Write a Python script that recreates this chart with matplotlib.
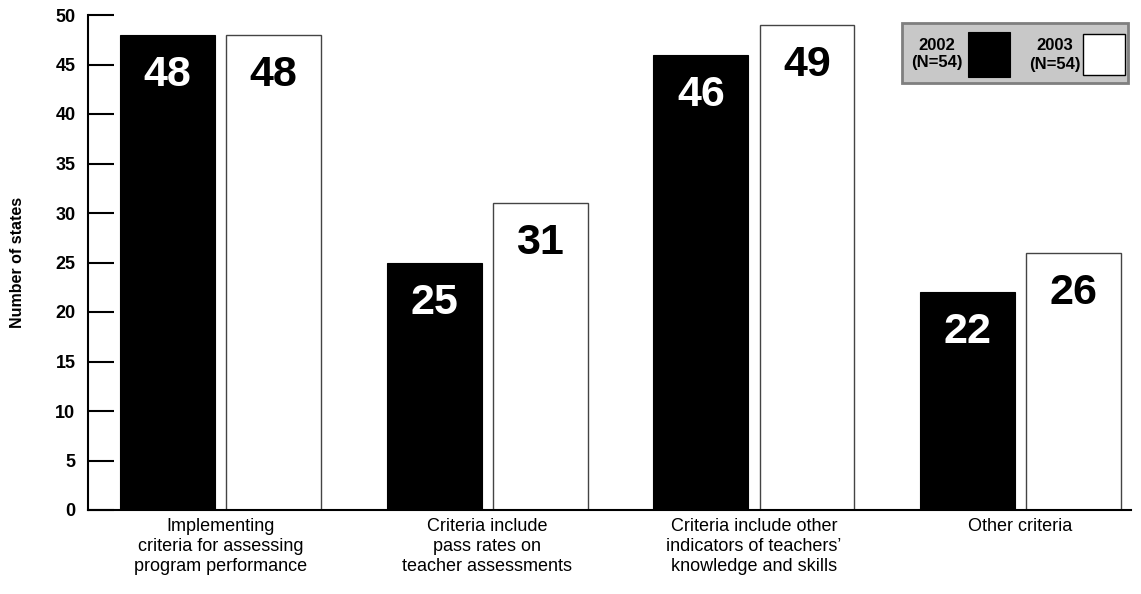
import matplotlib
matplotlib.use("Agg")
from matplotlib import pyplot as plt
from matplotlib.patches import Rectangle
import numpy as np

# data
categories = [
    "Implementing\ncriteria for assessing\nprogram performance",
    "Criteria include\npass rates on\nteacher assessments",
    "Criteria include other\nindicators of teachers\u2019\nknowledge and skills",
    "Other criteria",
]
values_2002 = [48, 25, 46, 22]
values_2003 = [48, 31, 49, 26]
label_2002 = "2002\n(N=54)"
label_2003 = "2003\n(N=54)"
y_ticks = [0, 5, 10, 15, 20, 25, 30, 35, 40, 45, 50]

plt.rcParams['font.family'] = ['Liberation Sans Narrow', 'Liberation Sans', 'DejaVu Sans']

W, H = 1141, 594
fig = plt.figure(figsize=(W / 100, H / 100), dpi=100)
ax = fig.add_axes([88 / W, 1 - 510 / H, 1043 / W, 495 / H])


def px(x, y):
    """pixel position in the picture -> figure fraction"""
    return x / W, 1 - y / H


x = np.arange(len(categories))
width = 0.356
offset = 0.199

bars1 = ax.bar(x - offset, values_2002, width, color='black', edgecolor='black', linewidth=0.8)
bars2 = ax.bar(x + offset, values_2003, width, color='white', edgecolor='#444444', linewidth=1.0)

for rect, v in zip(bars1, values_2002):
    ax.annotate(str(v), (rect.get_x() + rect.get_width() / 2, v), xytext=(0, -14.5),
                textcoords='offset points', ha='center', va='top',
                color='white', fontsize=31, fontweight='bold')
for rect, v in zip(bars2, values_2003):
    ax.annotate(str(v), (rect.get_x() + rect.get_width() / 2, v), xytext=(0, -14.5),
                textcoords='offset points', ha='center', va='top',
                color='black', fontsize=31, fontweight='bold')

ax.set_xlim(-0.497, 3.414)
ax.set_ylim(0, 50)
ax.set_yticks(y_ticks)
ax.set_yticklabels([str(t) for t in y_ticks], fontsize=13, fontweight='bold')
ax.tick_params(axis='y', direction='in', length=19, width=1.5, pad=9)
ax.set_xticks(x)
ax.set_xticklabels(categories, fontsize=13, linespacing=1.2)
ax.tick_params(axis='x', length=0, pad=6)
ax.set_ylabel("Number of states", fontsize=11.5, fontweight='bold')
ax.yaxis.set_label_coords((25 - 88) / 1043, 0.5)

for s in ['top', 'right']:
    ax.spines[s].set_visible(False)
ax.spines['left'].set_linewidth(1.5)
ax.spines['bottom'].set_linewidth(1.5)

# legend box drawn by hand
x0, y0 = px(902, 83)
x1, y1 = px(1128, 23)
fig.add_artist(Rectangle((x0, y0), x1 - x0, y1 - y0, transform=fig.transFigure,
                         facecolor='#c8c8c8', edgecolor='#7f7f7f', linewidth=2))
sx, sy = px(968, 77)
fig.add_artist(Rectangle((sx, sy), 42 / W, 45 / H, transform=fig.transFigure,
                         facecolor='black', edgecolor='black', linewidth=0.8))
sx, sy = px(1083, 75)
fig.add_artist(Rectangle((sx, sy), 42 / W, 41 / H, transform=fig.transFigure,
                         facecolor='white', edgecolor='black', linewidth=1.0))
tx, ty = px(937, 54)
fig.text(tx, ty, label_2002, ha='center', va='center', fontsize=12,
         fontweight='bold', linespacing=1.25)
tx, ty = px(1055, 55)
fig.text(tx, ty, label_2003, ha='center', va='center', fontsize=12,
         fontweight='bold', linespacing=1.25)

fig.savefig("out.png", dpi=100)
